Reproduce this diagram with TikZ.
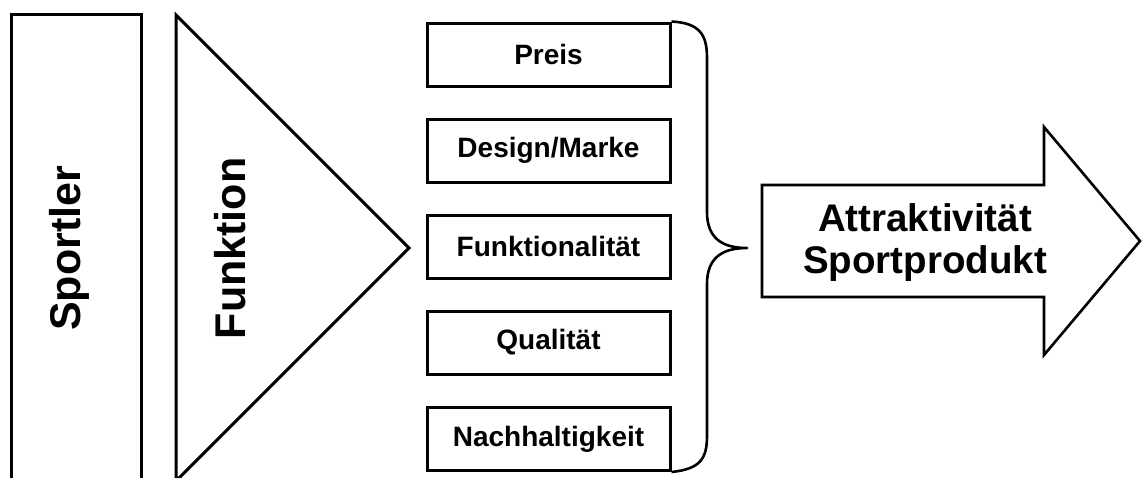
\documentclass[tikz,border=0pt]{standalone}
\usepackage{fontspec}
\setmainfont{Liberation Sans}
\begin{document}
\begin{tikzpicture}[x=1pt,y=-1pt,
  outline/.style={draw=black,line width=3pt,line join=miter},
  thinline/.style={draw=black,line width=2.6pt,line join=miter},
  bigtext/.style={font=\fontsize{43}{50}\selectfont\bfseries,inner sep=0pt,rotate=90,anchor=base},
  factor/.style={draw=black,line width=3pt,minimum width=243pt,minimum height=63pt,
    inner sep=0pt,font=\fontsize{28}{32}\selectfont\bfseries},
  goal/.style={font=\fontsize{38.5}{42}\selectfont\bfseries,align=center,inner sep=0pt}]
\useasboundingbox (0,0) rectangle (1143,477);
\clip (0,0) rectangle (1143,477);

% athlete column, running past the lower edge
\draw[outline] (11.5,14) rectangle (141,500);
\node[bigtext] (sportler) at (80,248.5) {Sportler};

% function wedge
\draw[outline] (176,15) -- (409,248) -- (176,481) -- cycle;
\node[bigtext] (funktion) at (245,248.5) {Funktion};

% product factors
\node[factor] (preis)  at (548.5,54.5)  {Preis};
\node[factor] (design) at (548.5,150.5) {Design/Marke};
\node[factor] (funk)   at (548.5,246.5) {Funktionalität};
\node[factor] (qual)   at (548.5,342.5) {Qualität};
\node[factor] (nach)   at (548.5,439)   {Nachhaltigkeit};

% curly brace gathering the factors
\coordinate (btop) at (preis.north east);
\coordinate (bbot) at (nach.south east);
\coordinate (btip) at (747,248);
\draw[thinline,line join=round]
  (btop) .. controls (700,23) and (707,35) .. (707,58)
  -- (707,212) .. controls (707,238) and (722,248) .. (btip)
  .. controls (722,248) and (707,258) .. (707,284)
  -- (707,436) .. controls (707,459) and (700,469) .. (bbot);

% result arrow
\draw[thinline] (762,185) -- (1044,185) -- (1044,127) -- (1140,241)
  -- (1044,355) -- (1044,297) -- (762,297) -- cycle;
\node[goal] (result) at (925,243) {Attraktivität\\Sportprodukt};
\end{tikzpicture}
\end{document}
